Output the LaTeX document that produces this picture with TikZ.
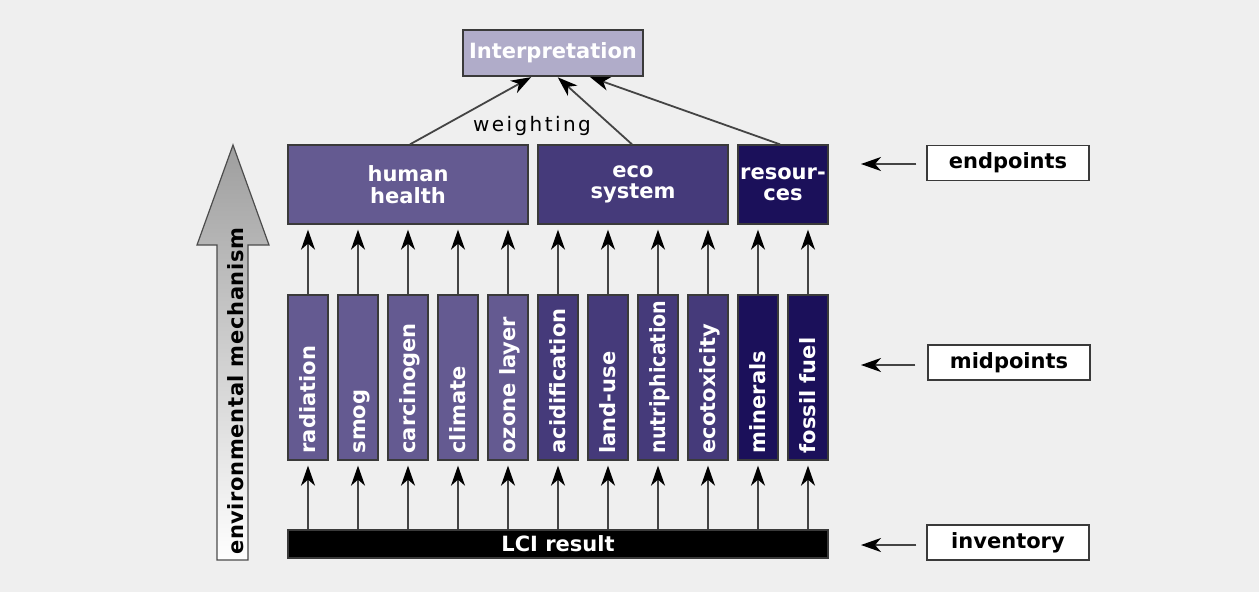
\documentclass[tikz,border=0pt]{standalone}
\usepackage{fontspec}
\setmainfont{DejaVu Sans}
\newfontfamily\wfont{DejaVu Sans}[LetterSpace=12]
\usetikzlibrary{arrows.meta}
\definecolor{bg}{HTML}{EFEFEF}
\definecolor{cA}{HTML}{645A91}
\definecolor{cB}{HTML}{453A7A}
\definecolor{cC}{HTML}{1B105A}
\definecolor{cI}{HTML}{B0ACC9}
\definecolor{edge}{HTML}{3A3A3A}
\definecolor{lin}{HTML}{444444}
\tikzset{
  lbl/.style={font=\bfseries\fontsize{21}{21.5}\selectfont},
  box/.style={draw=edge, line width=1.3pt, inner sep=0pt, minimum height=#1},
  ptbox/.style={draw=edge, line width=1.4pt, fill=white, inner sep=0pt,
     minimum width=162pt, minimum height=35pt, lbl, text=black},
  arr/.style={draw=lin, line width=1.8pt,
     -{Stealth[length=20pt, width=14pt, inset=6pt, color=black, fill=black]}},
  vtext/.style={lbl, text=white, rotate=90, anchor=base west, inner sep=0pt},
}
\begin{document}
\begin{tikzpicture}[x=1pt,y=-1pt]
\fill[bg] (0,0) rectangle (1259,592);
\useasboundingbox (0,0) rectangle (1259,592);

% big arrow
\shade[top color=black!38, bottom color=white, draw=black!70, line width=1.2pt]
  (233,145) -- (269,245) -- (248,245) -- (248,560) -- (217,560) -- (217,245) -- (197,245) -- cycle;
\node[lbl, rotate=90, anchor=base west, inner sep=0pt] (envtxt) at (243,555) {\addfontfeature{LetterSpace=3}environmental mechanism};

% interpretation
\node[box=46pt, fill=cI, minimum width=180pt, lbl, text=white] (interp) at (553,53) {Interpretation};

% endpoints
\node[box=79pt, fill=cA, minimum width=240pt, lbl, text=white, align=center] (hh) at (408,184.5) {human\\health};
\node[box=79pt, fill=cB, minimum width=190pt, lbl, text=white, align=center] (eco) at (633,184.5) {eco\\system};
\node[box=79pt, fill=cC, minimum width=90pt, lbl, text=white, align=center] (res) at (783,184.5) {resour-\\ces};

% midpoints
\foreach \i/\c/\t in {1/cA/radiation, 2/cA/smog, 3/cA/carcinogen, 4/cA/climate, 5/cA/ozone layer,
  6/cB/acidification, 7/cB/land-use, 8/cB/{\scalebox{0.91}[1]{nutriphication}}, 9/cB/ecotoxicity,
  10/cC/minerals, 11/cC/fossil fuel}{
  \node[box=165pt, fill=\c, minimum width=40pt] (m\i) at ({308+50*(\i-1)},377.5) {};
  \node[vtext] (t\i) at ([xshift=7.5pt, yshift=7pt]m\i.south) {\t};
}

% LCI result
\node[box=28pt, fill=black, minimum width=540pt, lbl, text=white] (lci) at (558,544) {LCI result};

% arrows LCI -> midpoints
\foreach \i in {1,...,11}{
  \draw[arr, shorten >=5pt] (lci.north -| m\i.south) -- (m\i.south);
}
% arrows midpoints -> endpoints
\foreach \i in {1,...,5}{ \draw[arr, shorten >=5pt] (m\i.north) -- (m\i.north |- hh.south); }
\foreach \i in {6,...,9}{ \draw[arr, shorten >=5pt] (m\i.north) -- (m\i.north |- eco.south); }
\foreach \i in {10,11}{ \draw[arr, shorten >=5pt] (m\i.north) -- (m\i.north |- res.south); }

% weighting arrows
\draw[arr, shorten >=1pt] ([xshift=2pt]hh.north) -- ([xshift=-21pt]interp.south);
\draw[arr, shorten >=1pt] ([xshift=-1pt]eco.north) -- ([xshift=4pt]interp.south);
\draw[arr, shorten >=1pt] ([xshift=-3pt]res.north) -- ([xshift=36pt]interp.south);
\node[font=\wfont\fontsize{20}{20}\selectfont, inner sep=0pt, anchor=base] (wt) at (532,131) {weighting};

% right labels
\node[ptbox] (ep) at (1008,163) {endpoints};
\node[ptbox] (mp) at (1009,362.5) {midpoints};
\node[ptbox] (inv) at (1008,542.5) {inventory};
\coordinate (epa) at (861,164);
\coordinate (mpa) at (861,365);
\coordinate (inva) at (861,545);
\draw[arr, shorten <=10pt] (ep.west |- epa) -- (epa);
\draw[arr, shorten <=12pt] (mp.west |- mpa) -- (mpa);
\draw[arr, shorten <=10pt] (inv.west |- inva) -- (inva);
\end{tikzpicture}
\end{document}
